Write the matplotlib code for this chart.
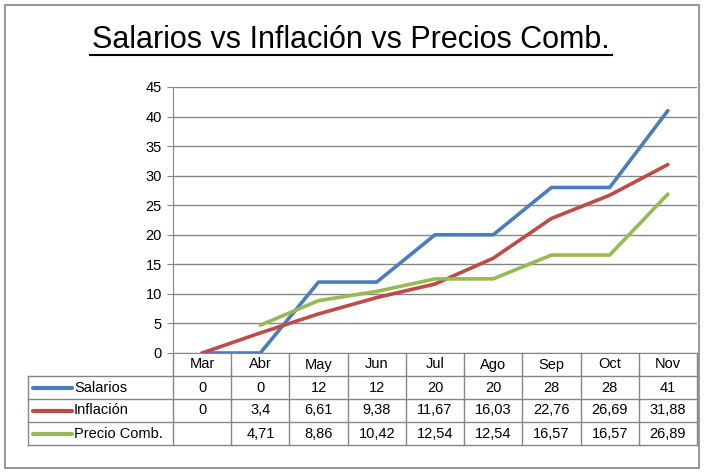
import matplotlib
matplotlib.use("Agg")
import matplotlib.pyplot as plt
import numpy as np

meses = ["Mar", "Abr", "May", "Jun", "Jul", "Ago", "Sep", "Oct", "Nov"]
salarios = [0, 0, 12, 12, 20, 20, 28, 28, 41]
inflacion = [0, 3.4, 6.61, 9.38, 11.67, 16.03, 22.76, 26.69, 31.88]
precio_comb = [None, 4.71, 8.86, 10.42, 12.54, 12.54, 16.57, 16.57, 26.89]
series_names = ["Salarios", "Inflación", "Precio Comb."]
colors = ["#4A7EBB", "#BE4B48", "#98B954"]

plt.rcParams["font.family"] = ["Liberation Sans", "DejaVu Sans"]
narrow = ["Liberation Sans Narrow", "Liberation Sans", "DejaVu Sans"]
W, H = 704, 472
fig = plt.figure(figsize=(W / 100, H / 100), dpi=100)
grid_c = "#868686"

def box(x0, y0, x1, y1):
    # pixel box (top-left origin) -> figure fraction
    return [x0 / W, 1 - y1 / H, (x1 - x0) / W, (y1 - y0) / H]

# outer border
fig.patches.append(plt.Rectangle((5 / W, 1 - 468 / H), 694 / W, 463 / H,
                                 transform=fig.transFigure, fill=False,
                                 edgecolor=grid_c, lw=1.2))

fig.text(351 / W, 1 - 40 / H, "Salarios vs Inflación vs Precios Comb.",
         ha="center", va="center", fontsize=22)
# underline
fig.add_artist(plt.Line2D([90 / W, 612 / W], [1 - 55 / H, 1 - 55 / H],
                          color="black", lw=1.5, transform=fig.transFigure))

x0, x1 = 173, 697
ax = fig.add_axes(box(x0, 87, x1, 353))
xs = np.arange(len(meses))
series = [salarios, inflacion, precio_comb]
for vals, c in zip(series, colors):
    v = np.array([np.nan if a is None else a for a in vals], dtype=float)
    ax.plot(xs, v, color=c, lw=2.6, solid_capstyle="round", zorder=3)
ax.set_xlim(-0.5, len(meses) - 0.5)
ax.set_ylim(0, 45)
ax.set_yticks(range(0, 50, 5))
ax.yaxis.grid(True, color=grid_c, lw=1)
ax.set_xticks([])
for s in ["top", "right"]:
    ax.spines[s].set_visible(False)
ax.spines["left"].set_color(grid_c)
ax.spines["bottom"].set_color(grid_c)
ax.tick_params(axis="y", length=4, color=grid_c, labelsize=10.5, pad=4)

# data table below
unit = (x1 - x0) / len(meses)
tx0 = 28
tab = fig.add_axes(box(tx0, 353, x1, 445))
left = -0.5 - (x0 - tx0) / unit
tab.set_xlim(left, len(meses) - 0.5)
tab.set_ylim(4, 0)
tab.axis("off")
lk = dict(color=grid_c, lw=1, clip_on=False)
for i in range(len(meses) + 1):
    tab.plot([i - 0.5, i - 0.5], [0, 4], **lk)
for r in [1, 2, 3, 4]:
    tab.plot([left, len(meses) - 0.5], [r, r], **lk)
tab.plot([left, left], [1, 4], **lk)
for i, m in enumerate(meses):
    tab.text(i, 0.5, m, ha="center", va="center", fontsize=10.5, family=narrow)
for r, (name, vals, c) in enumerate(zip(series_names, series, colors)):
    y = r + 1.5
    tab.plot([left + 5 / unit, left + 44 / unit], [y, y], color=c, lw=3,
             solid_capstyle="round", clip_on=False)
    tab.text(left + 46 / unit, y, name, ha="left", va="center",
             fontsize=10.5, family=narrow)
    for i, v in enumerate(vals):
        if v is None:
            continue
        tab.text(i, y, str(v).replace(".", ","), ha="center", va="center",
                 fontsize=10.5, family=narrow)

fig.savefig("out.png", dpi=100)
